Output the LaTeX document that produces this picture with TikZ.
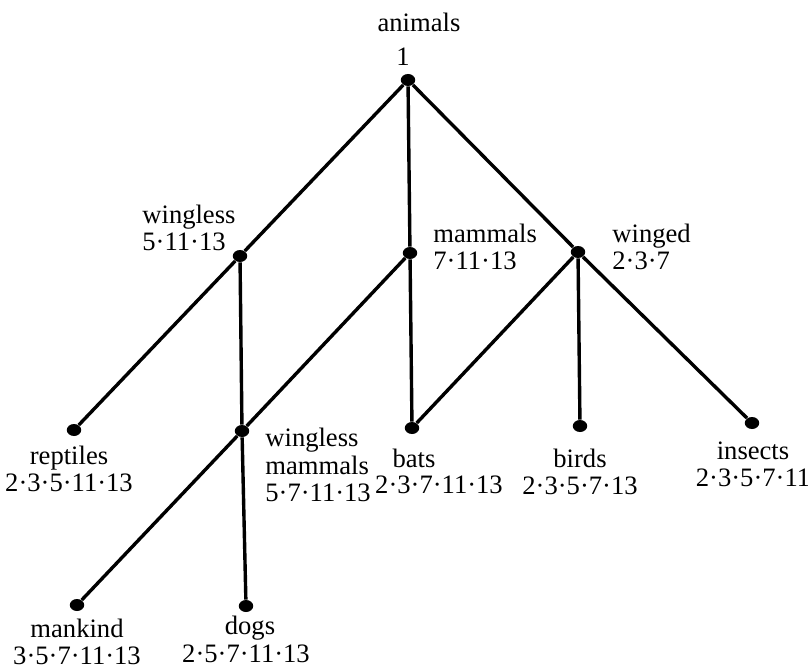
\documentclass[tikz,border=0pt]{standalone}
\usepackage{fontspec}
\setmainfont{Liberation Serif}
\usetikzlibrary{shapes.geometric}
\begin{document}
\begin{tikzpicture}[x=0.5pt,y=-0.5pt,
  vertex/.style={ellipse,fill=black,draw=none,inner sep=0pt,minimum width=7.2pt,minimum height=6pt},
  edge/.style={line width=1.7pt},
  lbl/.style={inner sep=0pt,align=center,font=\fontsize{13.3}{13.6}\selectfont},
  lbll/.style={lbl,align=left,anchor=west}]
\useasboundingbox (0,0) rectangle (808,668);
% vertices of the lattice
\node[vertex] (animals) at (408,80) {};
\node[vertex] (wingless) at (240,256) {};
\node[vertex] (mammals) at (410,253) {};
\node[vertex] (winged) at (578,252) {};
\node[vertex] (reptiles) at (74,430) {};
\node[vertex] (wm) at (242,431) {};
\node[vertex] (bats) at (412,428) {};
\node[vertex] (birds) at (580,426) {};
\node[vertex] (insects) at (752,423) {};
\node[vertex] (mankind) at (77,605) {};
\node[vertex] (dogs) at (246,606) {};
% edges
\draw[edge] (animals) -- (wingless);
\draw[edge] (animals) -- (mammals);
\draw[edge] (animals) -- (winged);
\draw[edge] (wingless) -- (reptiles);
\draw[edge] (wingless) -- (wm);
\draw[edge] (mammals) -- (wm);
\draw[edge] (mammals) -- (bats);
\draw[edge] (winged) -- (bats);
\draw[edge] (winged) -- (birds);
\draw[edge] (winged) -- (insects);
\draw[edge] (wm) -- (mankind);
\draw[edge] (wm) -- (dogs);
% labels
\node[lbl] (l-animals) at (419,22) {animals};
\node[lbl] (n-animals) at (403,57) {1};
\node[lbll] (l-wingless) at (142,228) {wingless\\5·11·13};
\node[lbll] (l-mammals) at (433,247) {mammals\\7·11·13};
\node[lbll] (l-winged) at (612,247) {winged\\2·3·7};
\node[lbl] (l-reptiles) at (69,469) {reptiles\\2·3·5·11·13};
\node[lbll] (l-wm) at (265,465) {wingless\\mammals\\5·7·11·13};
\node[lbl] (l-bats-a) at (414,458) {bats};
\node[lbl] (l-bats-b) at (439,485) {2·3·7·11·13};
\node[lbl] (l-birds) at (580,472) {birds\\2·3·5·7·13};
\node[lbl] (l-insects) at (753,464) {insects\\2·3·5·7·11};
\node[lbl] (l-mankind) at (77,642) {mankind\\3·5·7·11·13};
\node[lbl] (l-dogs-a) at (250,628) {dogs};
\node[lbl] (l-dogs-b) at (246,654) {2·5·7·11·13};
\end{tikzpicture}
\end{document}
